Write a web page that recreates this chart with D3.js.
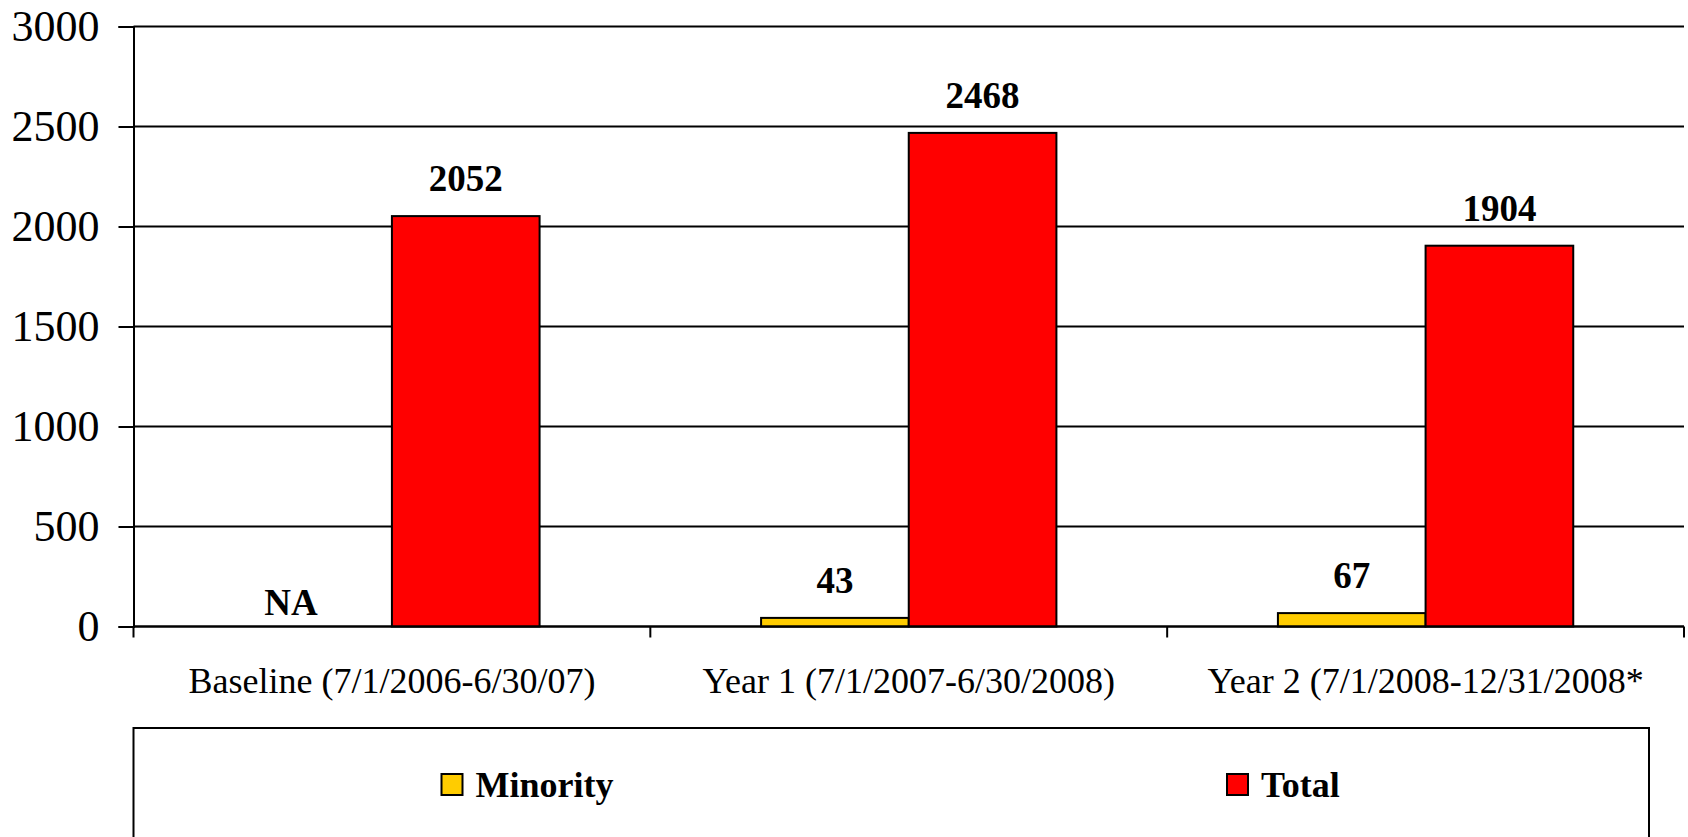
<!DOCTYPE html>
<html>
<head>
<meta charset="utf-8">
<script src="https://cdn.jsdelivr.net/npm/d3@7"></script>
<style>
  html, body { margin: 0; padding: 0; background: #fff; }
  svg { display: block; font-family: "Liberation Serif", "Times New Roman", serif; }
</style>
</head>
<body>
<svg id="chart" width="1688" height="837"></svg>
<script>
// chart data
const categories = ['Baseline (7/1/2006-6/30/07)', 'Year 1 (7/1/2007-6/30/2008)', 'Year 2 (7/1/2008-12/31/2008*'];
const seriesNames = ['Minority', 'Total'];
const minorityValues = [null, 43, 67];
const totalValues = [2052, 2468, 1904];
const yTicks = [0, 500, 1000, 1500, 2000, 2500, 3000];
const naLabel = 'NA';

const colors = {Minority: '#FFCC00', Total: '#FF0000'};

const svg = d3.select('#chart');

const plotLeft = 133.5, plotRight = 1684, plotTop = 26.5, plotBottom = 626.5;

//scales
const x0 = d3.scaleBand()
    .domain(categories)
    .range([plotLeft, plotRight])
    .padding(0);

// gap width 150% between groups
const groupW = x0.bandwidth() * 2 / 3.5;
const x1 = d3.scaleBand()
    .domain(seriesNames)
    .range([(x0.bandwidth() - groupW) / 2, (x0.bandwidth() + groupW) / 2])
    .padding(0);

const y = d3.scaleLinear()
    .domain([0, 3000])
    .range([plotBottom, plotTop]);

//gridlines
svg.append('g')
    .selectAll('line')
    .data(yTicks)
    .join('line')
    .attr('x1', plotLeft)
    .attr('x2', plotRight)
    .attr('y1', d => y(d))
    .attr('y2', d => y(d))
    .attr('stroke', '#000')
    .attr('stroke-width', 2);

//y axis
const yAxis = svg.append('g')
    .attr('transform', `translate(${plotLeft},0)`)
    .call(d3.axisLeft(y).tickValues(yTicks).tickSize(15).tickPadding(19).tickFormat(d3.format('d')));
yAxis.select('.domain').attr('stroke', '#000').attr('stroke-width', 2);
yAxis.selectAll('.tick line').attr('stroke', '#000').attr('stroke-width', 2);
yAxis.selectAll('.tick text')
    .attr('font-family', '"Liberation Serif", "Times New Roman", serif')
    .attr('font-size', 44)
    .attr('fill', '#000');

//bars
const rows = categories.map((c, i) => ({
    category: c,
    values: [
        {name: 'Minority', value: minorityValues[i]},
        {name: 'Total', value: totalValues[i]}
    ]
}));

const groups = svg.append('g')
    .selectAll('g')
    .data(rows)
    .join('g')
    .attr('transform', d => `translate(${x0(d.category)},0)`);

groups.selectAll('rect')
    .data(d => d.values.filter(v => v.value !== null))
    .join('rect')
    .attr('x', d => x1(d.name))
    .attr('y', d => y(d.value))
    .attr('width', x1.bandwidth())
    .attr('height', d => y(0) - y(d.value))
    .attr('fill', d => colors[d.name])
    .attr('stroke', '#000')
    .attr('stroke-width', 2);

groups.selectAll('text')
    .data(d => d.values)
    .join('text')
    .attr('x', d => x1(d.name) + x1.bandwidth() / 2 - (d.value === null ? 27 : 0))
    .attr('y', d => (d.value === null ? y(0) - 12 : y(d.value) - 25))
    .attr('text-anchor', 'middle')
    .attr('font-size', 37)
    .attr('font-weight', 'bold')
    .text(d => (d.value === null ? naLabel : d.value));

//x axis
const xAxis = svg.append('g')
    .attr('transform', `translate(0,${plotBottom})`);
xAxis.append('line')
    .attr('x1', plotLeft).attr('x2', plotRight)
    .attr('stroke', '#000').attr('stroke-width', 2);
const xBounds = categories.map(c => x0(c)).concat([plotRight]);
xAxis.selectAll('.xtick')
    .data(xBounds)
    .join('line')
    .attr('class', 'xtick')
    .attr('x1', d => d).attr('x2', d => d)
    .attr('y1', 0).attr('y2', 11)
    .attr('stroke', '#000').attr('stroke-width', 2);
xAxis.selectAll('.xlabel')
    .data(categories)
    .join('text')
    .attr('class', 'xlabel')
    .attr('x', d => x0(d) + x0.bandwidth() / 2)
    .attr('y', 66)
    .attr('text-anchor', 'middle')
    .attr('font-size', 36)
    .text(d => d);

//legend
const legend = svg.append('g');
legend.append('rect')
    .attr('x', plotLeft)
    .attr('y', 728)
    .attr('width', 1649 - plotLeft)
    .attr('height', 160)
    .attr('fill', '#fff')
    .attr('stroke', '#000')
    .attr('stroke-width', 2);

const legendX = d3.scalePoint()
    .domain(seriesNames)
    .range([441.5, 1227]);

const items = legend.selectAll('.item')
    .data(seriesNames)
    .join('g')
    .attr('class', 'item')
    .attr('transform', d => `translate(${legendX(d)},774)`);
items.append('rect')
    .attr('width', 21)
    .attr('height', 21)
    .attr('fill', d => colors[d])
    .attr('stroke', '#000')
    .attr('stroke-width', 2);
items.append('text')
    .attr('x', 34)
    .attr('y', 23)
    .attr('font-size', 36)
    .attr('font-weight', 'bold')
    .text(d => d);
</script>
</body>
</html>
